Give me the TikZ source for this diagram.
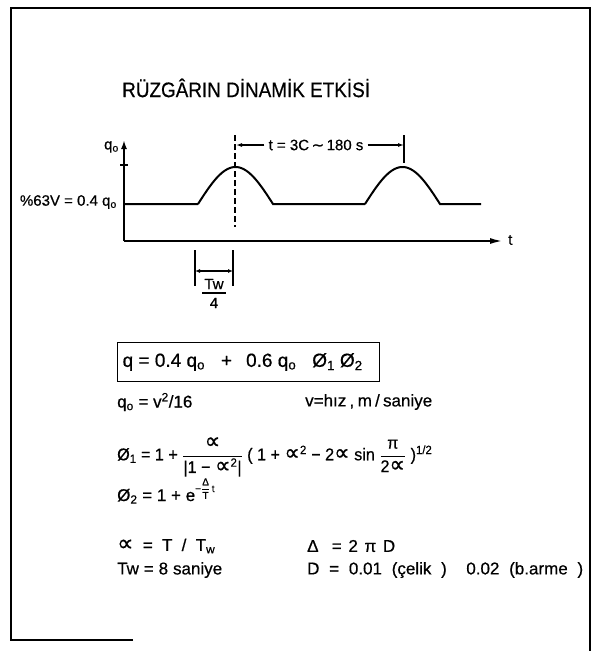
\documentclass[tikz,border=0pt]{standalone}
\usepackage{amsmath}
\usepackage{fontspec}
\setmainfont[FakeBold=0.6]{Liberation Sans}
\newfontfamily\djf[FakeBold=0.6]{DejaVu Sans}
\usetikzlibrary{arrows.meta}
\newcommand{\al}{\scalebox{1.35}{\djf\char"221D}}
\tikzset{
  frame/.style={line width=1.3pt},
  curve/.style={line width=2pt},
  thinl/.style={line width=1.1pt},
  lbl/.style={font=\fontsize{15}{17}\selectfont, inner sep=0pt},
  body/.style={font=\fontsize{17}{20}\selectfont, inner sep=0pt, anchor=west},
}
\begin{document}
\begin{tikzpicture}[x=1pt,y=-1pt]
\useasboundingbox (0,0) rectangle (598,651);
% frame
\coordinate (f1) at (11,640);
\coordinate (f2) at (11,8);
\coordinate (f3) at (590,8);
\coordinate (f4) at (590,651);
\coordinate (f5) at (133,640);
\draw[frame] (f5) -- (f1) -- (f2) -- (f3) -- (f4);
% title
\node[anchor=west, inner sep=0pt, font=\fontsize{21}{24}\selectfont] (title) at (122,88) {\scalebox{0.9}[1]{RÜZGÂRIN  DİNAMİK ETKİSİ}};
% axes
\coordinate (o) at (124,241);
\coordinate (ytop) at (124,140);
\coordinate (xend) at (503,241);
\draw[curve, -{Latex[length=9pt,width=6pt]}] (o) -- (ytop);
\draw[curve, -{Latex[length=13pt,width=6pt]}] (o) -- (xend);
\node[lbl, anchor=east] (qo) at (119,147) {q\textsubscript{o}};
\node[lbl, anchor=west] (t) at (508,240) {t};
\coordinate (tk1) at (120,165);
\coordinate (tk2) at (128,165);
\draw[thinl] (tk1) -- (tk2);
% signal
\coordinate (b0) at (124,204);
\coordinate (b1) at (198,204);
\coordinate (b3) at (365,204);
\coordinate (b5) at (481,204);
\draw[curve] (b0) -- (b1)
  plot[domain=0:180, samples=50] ({198+75*\x/180},{204-37*sin(\x)})
  -- (b3)
  plot[domain=0:180, samples=50] ({365+75*\x/180},{204-37*sin(\x)})
  -- (b5);
\node[lbl, anchor=east] (lev) at (117,202) {\%63V = 0.4 q\textsubscript{o}};
% dashed center line
\coordinate (d1) at (235,135);
\coordinate (d2) at (235,227);
\draw[thinl, dash pattern=on 6pt off 3pt] (d1) -- (d2);
% period dimension
\coordinate (p1) at (404,135);
\coordinate (p2) at (404,163);
\draw[thinl] (p1) -- (p2);
\node[lbl] (per) at (316,145) {t = 3C\,{\djf\char"223C}\,180 s};
\coordinate (pa) at (236,145);
\coordinate (pb) at (404,145);
\draw[thinl, -{Latex[length=6pt,width=4pt]}] (per.west) ++(-4,0) -- (pa);
\draw[thinl, -{Latex[length=6pt,width=4pt]}] (per.east) ++(4,0) -- (pb);
% Tw/4 dimension
\coordinate (w1) at (195,250);
\coordinate (w2) at (195,286);
\coordinate (w3) at (233,250);
\coordinate (w4) at (233,286);
\draw[thinl] (w1) -- (w2);
\draw[thinl] (w3) -- (w4);
\coordinate (wa) at (195,271);
\coordinate (wb) at (233,271);
\draw[thinl, {Latex[length=5pt,width=4pt]}-{Latex[length=5pt,width=4pt]}] (wa) -- (wb);
\node[lbl] (tw) at (214,284) {Tw};
\coordinate (fb1) at (202,293);
\coordinate (fb2) at (226,293);
\draw[thinl] (fb1) -- (fb2);
\node[lbl] (four) at (214,303) {4};
% boxed formula
\node[body, draw, line width=1.3pt, inner xsep=5pt, inner ysep=6pt, minimum height=39pt] (main) at (117,362)
  {\makebox[252pt][l]{\fontsize{19}{21}\selectfont q = 0.4 q\textsubscript{o}\hspace{16pt}+\hspace{14pt}0.6 q\textsubscript{o}\hspace{16pt}Ø\textsubscript{1}\hspace{5pt}Ø\textsubscript{2}}};
% formulas
\node[body] (qov) at (117,402) {q\textsubscript{o} = v\textsuperscript{2}/16};
\node[body] (vh) at (305,402) {\makebox[127pt][s]{v=hız , m / saniye}};
\node[body] (phi1) at (117,457) {\scalebox{0.95}[1]{Ø\textsubscript{1} = 1 + $\dfrac{\text{\al}}{\text{|1 − \al\textsuperscript{2}|}}$ ( 1 + \al\textsuperscript{2} − 2\al\ sin $\dfrac{\text{π}}{\text{2\al}}$ )\textsuperscript{1/2}}};
\node[body] (phi2) at (117,491) {Ø\textsubscript{2} = 1 + e\raisebox{9pt}{\fontsize{10}{11}\selectfont −$\dfrac{\text{Δ}}{\text{T}}$\,t}};
\node[body] (alf) at (117,546) {\makebox[98pt][s]{\al\ = T / T\textsubscript{w}}};
\node[body] (del) at (307,546) {\makebox[88pt][s]{Δ \ = 2 π D}};
\node[body] (twv) at (117,570) {\makebox[105pt][s]{Tw = 8 saniye}};
\node[body] (dv) at (307,570) {\makebox[276pt][s]{D = 0.01 (çelik ) \ 0.02 (b.arme )}};
\end{tikzpicture}
\end{document}
